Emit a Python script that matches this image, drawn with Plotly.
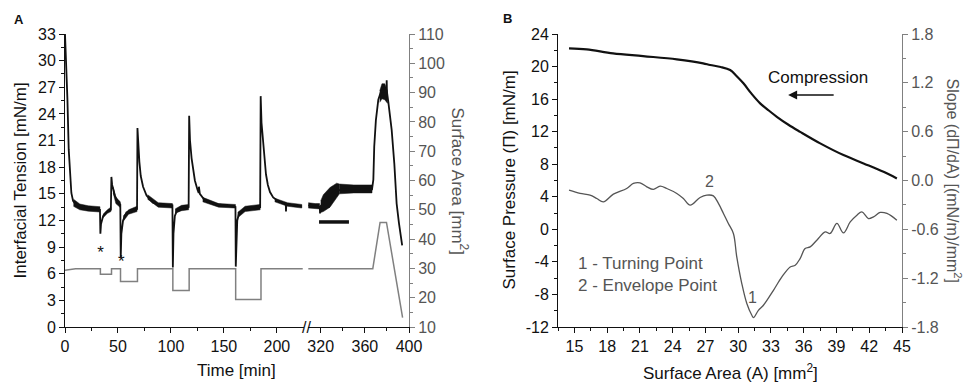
import plotly.graph_objects as go

# ---------------- Panel A data ----------------
# Interfacial tension (black), first time segment (0-225 min)
tension_t1 = [0, 0.6, 1.3, 2.3, 3.5, 5.0, 6.0, 7.6, 10.8, 20, 33.0, 33.4, 34.0, 36, 39, 43.3,
              43.8, 44.5, 45.4, 47, 50, 52.2, 52.6, 53.2, 54.8, 58, 64, 68.0,
              68.4, 69.2, 70.2, 71.5, 73.7, 77, 83, 90, 101.4, 101.8, 102.4, 103.7, 105.3, 111, 116.7,
              117.2, 118, 119.5, 121, 122.6, 125, 126.2, 126.4, 126.6, 127.3, 131, 136.8, 145, 158.8, 160.9,
              161.2, 161.8, 162.6, 164.5, 171.5, 184.2,
              184.7, 185.5, 187.2, 189.7, 191.5, 193.5, 196.5, 199.8, 205, 208.4, 208.6, 208.9, 215, 223.5]
tension_v1 = [33.0, 31.5, 29.5, 25.6, 20.0, 16.0, 15.1, 14.2, 13.7, 13.4, 13.2, 10.5, 11.6, 12.5, 12.9, 13.2,
              16.9, 16.0, 15.5, 14.8, 14.1, 13.8, 7.8, 10.5, 12.0, 12.9, 13.2, 13.3,
              22.4, 20.5, 18.6, 17.0, 15.8, 14.8, 14.0, 13.8, 13.7, 6.7, 10.5, 12.5, 13.0, 13.3, 13.5,
              23.8, 21.0, 19.0, 17.6, 16.5, 15.5, 15.1, 15.8, 15.0, 15.0, 14.4, 14.0, 13.8, 13.6, 13.5,
              6.8, 10.0, 12.0, 12.9, 13.3, 13.5,
              26.0, 23.0, 20.3, 17.2, 16.0, 15.2, 14.6, 14.3, 14.0, 13.9, 13.0, 13.9, 13.7, 13.6]
# second time segment (after axis break)
tension_t2 = [308.8, 317.8, 319.2, 319.4, 319.7, 322.4, 325, 328.4, 331, 334.5, 342, 351, 360, 366.5,
              367.7, 368.5, 370, 372.2, 374.6, 378.2, 379.6, 379.8, 380.0, 381.2, 384.3, 386.7, 388.8,
              390.9, 393.3, 393.8]
tension_v2 = [13.7, 13.6, 13.5, 12.8, 13.6, 13.9, 14.3, 14.8, 15.1, 15.4, 15.5, 15.6, 15.5, 15.5,
              16.6, 20.3, 23.3, 25.6, 26.5, 26.5, 26.8, 27.8, 26.5, 25.4, 22.2, 18.4, 13.9,
              11.7, 9.8, 9.2]

# noise envelopes of the tension signal: (segment, times, lower, upper)
noise_bands = [
    (1, [8, 14, 22, 33], [13.6, 13.2, 13.05, 12.95], [14.4, 13.85, 13.65, 13.55]),
    (1, [36, 40, 43.3], [12.3, 12.8, 13.0], [12.7, 13.2, 13.5]),
    (1, [45.5, 48, 52.2], [15.1, 13.9, 13.45], [15.8, 14.6, 14.1]),
    (1, [55, 60, 68], [11.9, 12.7, 13.0], [12.5, 13.2, 13.6]),
    (1, [78, 88, 101.4], [14.4, 13.5, 13.4], [14.9, 14.0, 13.9]),
    (1, [104, 110, 116.7], [12.8, 13.1, 13.2], [13.3, 13.7, 13.8]),
    (1, [130, 145, 160.9], [14.1, 13.5, 13.4], [14.6, 13.9, 13.8]),
    (1, [163, 170, 184.2], [12.3, 13.0, 13.2], [12.9, 13.6, 13.8]),
    (1, [198, 210, 223.5], [14.1, 13.6, 13.4], [14.5, 14.0, 13.8]),
    (2, [308.8, 315, 319], [13.4, 13.3, 13.3], [14.0, 13.9, 13.9]),
    (2, [320, 322.4, 328.4, 334.5, 337], [12.9, 13.0, 13.5, 14.6, 15.0], [14.2, 14.9, 15.7, 16.2, 16.1]),
    (2, [337, 350, 366.5], [15.0, 15.1, 15.1], [16.1, 16.0, 16.0]),
    (2, [373.5, 375.5, 378, 380.5], [25.3, 25.7, 25.6, 25.2], [26.6, 27.4, 27.4, 26.6]),
]

# Surface area (gray, right axis)
area_t1 = [0, 10, 33.4, 33.4, 43.9, 43.9, 52.4, 52.4, 68.4, 68.4, 101.8, 101.8, 117.2, 117.2,
           161.1, 161.1, 185.0, 185.0, 224.4]
area_v1 = [29.4, 29.9, 29.9, 28.0, 28.0, 29.9, 29.9, 25.5, 25.5, 29.9, 29.9, 22.5, 22.5, 29.9,
           29.9, 19.4, 19.4, 29.9, 29.9]
area_t2 = [308.8, 367.2, 373.8, 379.6, 394.2]
area_v2 = [29.9, 29.9, 45.7, 45.7, 13.2]

# marker bar and asterisks
bar_t = [318.5, 345.6]
bar_v = [11.83, 11.83]
star_t = [33.5, 53.2]
star_v = [8.3, 7.2]

# tick labels
a_x1_ticks = [0, 50, 100, 150, 200]
a_x2_ticks = [320, 360, 400]
a_y_ticks = [0, 3, 6, 9, 12, 15, 18, 21, 24, 27, 30, 33]
a_y2_ticks = [10, 20, 30, 40, 50, 60, 70, 80, 90, 100, 110]

# ---------------- Panel B data ----------------
press_A = [14.51, 16.13, 18.54, 21.29, 24.38, 26.79, 27.43, 28.4, 29.26, 29.8, 30.48, 31.2, 32.01,
           32.8, 33.54, 34.6, 35.67, 37.51, 39.64, 41.48, 43.31, 44.53]
press_v = [22.24, 22.12, 21.63, 21.29, 20.89, 20.40, 20.19, 19.95, 19.57, 18.9, 17.94, 16.7, 15.48,
           14.6, 13.83, 12.85, 11.98, 10.56, 9.12, 8.10, 7.06, 6.25]

slope_A = [14.51, 15.52, 16.43, 17.05, 17.65, 18.57, 19.79, 20.40, 21.01, 21.63, 22.23, 22.85, 23.46,
           24.38, 24.98, 25.60, 26.51, 27.13, 27.73, 28.19, 28.65, 29.10, 29.56, 29.87, 30.33, 30.79,
           31.25, 31.40, 31.85, 32.31, 33.23, 34.00, 34.76, 35.22, 35.67, 36.13, 36.59, 37.20, 37.97,
           38.42, 39.04, 39.64, 40.26, 40.87, 41.33, 41.93, 42.39, 43.00, 43.62, 44.53]
slope_v = [-0.119, -0.159, -0.180, -0.221, -0.263, -0.168, -0.098, -0.036, -0.029, -0.078, -0.110,
           -0.070, -0.098, -0.159, -0.221, -0.303, -0.209, -0.180, -0.189, -0.282, -0.405, -0.528,
           -0.651, -0.939, -1.266, -1.512, -1.656, -1.685, -1.595, -1.533, -1.349, -1.185, -1.062,
           -1.041, -0.959, -0.836, -0.816, -0.734, -0.632, -0.651, -0.528, -0.644, -0.509, -0.426,
           -0.386, -0.467, -0.447, -0.393, -0.405, -0.488]

b_x_ticks = [15, 18, 21, 24, 27, 30, 33, 36, 39, 42, 45]
b_y_ticks = [-12, -8, -4, 0, 4, 8, 12, 16, 20, 24]
b_y_text = ["-12", "-8", "-4", "0", "4", "8", "12", "16", "20", "24"]
b_y2_ticks = [-1.8, -1.2, -0.6, 0.0, 0.6, 1.2, 1.8]
b_y2_text = ["-1.8", "-1.2", "-0.6", "0.0", "0.6", "1.2", "1.8"]

# ---------------- layout helpers ----------------
W, H = 966, 382
L, R, T, B = 65, 64, 34, 55
PW, PH = W - L - R, H - T - B


def fx(px):
    return (px - L) / PW


def fy(py):
    return (T + PH - py) / PH


FONT = "Liberation Sans, Arial, sans-serif"
BLACK = "#111111"
GRAY_LINE = "#808080"
GRAY_TXT = "#555555"

fig = go.Figure()

# noise bands
for seg, tt, lo, hi in noise_bands:
    fig.add_trace(go.Scatter(x=tt + tt[::-1], y=lo + hi[::-1], fill="toself", mode="lines",
                             line=dict(width=0.5, color=BLACK), fillcolor=BLACK,
                             xaxis="x" if seg == 1 else "x2", yaxis="y",
                             hoverinfo="skip", showlegend=False))

fig.add_trace(go.Scatter(x=area_t1, y=area_v1, mode="lines", line=dict(color=GRAY_LINE, width=1.5),
                         xaxis="x", yaxis="y2", showlegend=False))
fig.add_trace(go.Scatter(x=area_t2, y=area_v2, mode="lines", line=dict(color=GRAY_LINE, width=1.5),
                         xaxis="x2", yaxis="y2", showlegend=False))
fig.add_trace(go.Scatter(x=tension_t1, y=tension_v1, mode="lines", line=dict(color=BLACK, width=1.8),
                         xaxis="x", yaxis="y", showlegend=False))
fig.add_trace(go.Scatter(x=tension_t2, y=tension_v2, mode="lines", line=dict(color=BLACK, width=1.8),
                         xaxis="x2", yaxis="y", showlegend=False))
fig.add_trace(go.Scatter(x=bar_t, y=bar_v, mode="lines", line=dict(color=BLACK, width=3.5),
                         xaxis="x2", yaxis="y", showlegend=False))
fig.add_trace(go.Scatter(x=star_t, y=star_v, mode="text", text=["*", "*"],
                         textfont=dict(family=FONT, size=17, color=BLACK),
                         xaxis="x", yaxis="y", showlegend=False))

# panel B
fig.add_trace(go.Scatter(x=slope_A, y=slope_v, mode="lines", line=dict(color=GRAY_TXT, width=1.3, shape="spline"),
                         xaxis="x3", yaxis="y4", showlegend=False))
fig.add_trace(go.Scatter(x=press_A, y=press_v, mode="lines", line=dict(color=BLACK, width=2.2, shape="spline"),
                         xaxis="x3", yaxis="y3", showlegend=False))

tickfont = dict(family=FONT, size=16, color=BLACK)
tickfont_g = dict(family=FONT, size=16, color=GRAY_TXT)
common = dict(showgrid=False, zeroline=False, showline=True, linewidth=1, ticks="outside",
              ticklen=5, tickwidth=1, fixedrange=True)

fig.update_layout(
    width=W, height=H, margin=dict(l=L, r=R, t=T, b=B),
    plot_bgcolor="white", paper_bgcolor="white", showlegend=False,
    font=dict(family=FONT, size=15, color=BLACK),
    xaxis=dict(domain=[0, fx(304)], range=[0, 225.6], anchor="y", tickvals=a_x1_ticks,
               linecolor=BLACK, tickcolor=BLACK, tickfont=tickfont,
               minor=dict(tickvals=[25, 75, 125, 175], ticks="outside", ticklen=3, tickcolor=BLACK), **common),
    xaxis2=dict(domain=[fx(308), fx(409)], range=[308.5, 400], anchor="y", tickvals=a_x2_ticks,
                linecolor=BLACK, tickcolor=BLACK, tickfont=tickfont,
                minor=dict(tickvals=[340, 380], ticks="outside", ticklen=3, tickcolor=BLACK), **common),
    yaxis=dict(domain=[0, 1], range=[0, 33], anchor="x", tickvals=a_y_ticks,
               linecolor=BLACK, tickcolor=BLACK, tickfont=tickfont,
               minor=dict(dtick=1.5, tick0=0, ticks="outside", ticklen=3, tickcolor=BLACK), **common),
    yaxis2=dict(range=[10, 110], overlaying="y", side="right", anchor="x2", tickvals=a_y2_ticks,
                linecolor=GRAY_LINE, tickcolor=GRAY_LINE, tickfont=tickfont_g,
                minor=dict(dtick=5, tick0=10, ticks="outside", ticklen=3, tickcolor=GRAY_LINE), **common),
    xaxis3=dict(domain=[fx(558), 1], range=[13.5, 45], anchor="y3", tickvals=b_x_ticks,
                linecolor=BLACK, tickcolor=BLACK, tickfont=tickfont,
                minor=dict(dtick=1.5, tick0=13.5, ticks="outside", ticklen=3, tickcolor=BLACK), **common),
    yaxis3=dict(domain=[0, 1], range=[-12, 24], anchor="x3", tickvals=b_y_ticks, ticktext=b_y_text,
                linecolor=BLACK, tickcolor=BLACK, tickfont=tickfont,
                minor=dict(dtick=2, tick0=0, ticks="outside", ticklen=3, tickcolor=BLACK), **common),
    yaxis4=dict(range=[-1.8, 1.8], overlaying="y3", side="right", anchor="x3", tickvals=b_y2_ticks,
                ticktext=b_y2_text, linecolor=GRAY_LINE, tickcolor=GRAY_LINE, tickfont=tickfont_g,
                minor=dict(dtick=0.3, tick0=0, ticks="outside", ticklen=3, tickcolor=GRAY_LINE), **common),
)

title_font = dict(family=FONT, size=17, color=BLACK)
title_font_g = dict(family=FONT, size=17, color=GRAY_TXT)
ann = [
    dict(text="<b>A</b>", x=fx(18.7), y=fy(19.5), font=dict(family=FONT, size=13, color=BLACK)),
    dict(text="<b>B</b>", x=fx(507.5), y=fy(18.7), font=dict(family=FONT, size=13, color=BLACK)),
    dict(text="Interfacial Tension [mN/m]", x=fx(20), y=fy(180.5), textangle=-90, font=title_font),
    dict(text="Surface Area [mm<sup>2</sup>]", x=fx(460), y=fy(180.5), textangle=90, font=title_font_g),
    dict(text="Time [min]", x=fx(236.7), y=fy(370), font=title_font),
    dict(text="//", x=fx(306), y=fy(327), font=dict(family=FONT, size=16, color=BLACK)),
    dict(text="Surface Pressure (\u03a0) [mN/m]", x=fx(509), y=fy(180.5), textangle=-90, font=title_font),
    dict(text="Slope (d\u03a0/dA) [(mN/m)/mm<sup>2</sup>]", x=fx(954), y=fy(180.5), textangle=90,
         font=dict(family=FONT, size=16, color=GRAY_TXT)),
    dict(text="Surface Area (A) [mm<sup>2</sup>]", x=fx(730), y=fy(372), font=title_font),
    dict(text="Compression", x=fx(818), y=fy(77.7), font=title_font),
]
for a in ann:
    fig.add_annotation(xref="paper", yref="paper", showarrow=False, xanchor="center", yanchor="middle", **a)

# panel B text labels in data coordinates
fig.add_annotation(xref="x3", yref="y3", x=27.34, y=5.83, text="2", showarrow=False,
                   font=dict(family=FONT, size=16, color=GRAY_TXT))
fig.add_annotation(xref="x3", yref="y3", x=31.28, y=-8.41, text="1", showarrow=False,
                   font=dict(family=FONT, size=16, color=GRAY_TXT))
fig.add_annotation(xref="x3", yref="y3", x=15.15, y=-4.17, text="1 - Turning Point", showarrow=False,
                   xanchor="left", font=dict(family=FONT, size=17, color=GRAY_TXT))
fig.add_annotation(xref="x3", yref="y3", x=15.15, y=-6.87, text="2 - Envelope Point", showarrow=False,
                   xanchor="left", font=dict(family=FONT, size=17, color=GRAY_TXT))
# compression arrow
fig.add_annotation(xref="x3", yref="y3", axref="x3", ayref="y3", x=34.57, y=16.5, ax=38.88, ay=16.5,
                   text="", showarrow=True, arrowhead=2, arrowsize=1.2, arrowwidth=1.5, arrowcolor=BLACK)

fig.write_html("out.html")
